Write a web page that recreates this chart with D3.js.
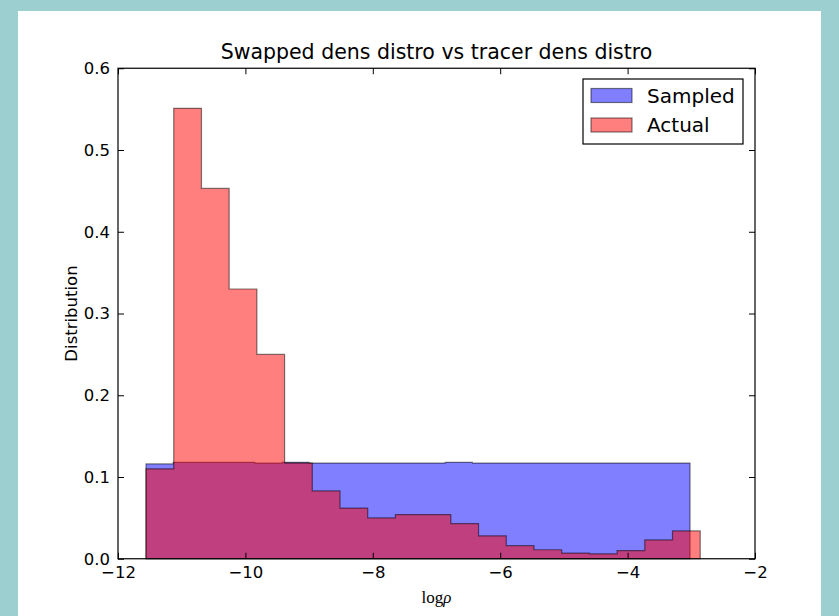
<!DOCTYPE html>
<html>
<head>
<meta charset="utf-8">
<script src="https://cdn.jsdelivr.net/npm/d3@7"></script>
<style>
  html, body { margin: 0; padding: 0; background: #9bcfd0; }
  svg { display: block; }
</style>
</head>
<body>
<svg id="chart" width="839" height="616"></svg>
<script>
// Histogram bin edges (log density) and normalised heights
const sampledEdges = [-11.56, -11.133, -10.706, -10.279, -9.852, -9.425, -8.998, -8.571, -8.144, -7.717,
  -7.29, -6.863, -6.436, -6.009, -5.582, -5.155, -4.728, -4.301, -3.874, -3.447, -3.02];
const sampledValues = [0.116, 0.118, 0.118, 0.118, 0.117, 0.118, 0.117, 0.117, 0.117, 0.117,
  0.117, 0.118, 0.117, 0.117, 0.117, 0.117, 0.117, 0.117, 0.117, 0.117];

const actualEdges = [-11.56, -11.125, -10.69, -10.255, -9.82, -9.385, -8.95, -8.515, -8.08, -7.645,
  -7.21, -6.775, -6.34, -5.905, -5.47, -5.035, -4.6, -4.165, -3.73, -3.295, -2.86];
const actualValues = [0.110, 0.551, 0.453, 0.330, 0.250, 0.117, 0.083, 0.062, 0.050, 0.054,
  0.054, 0.043, 0.028, 0.016, 0.011, 0.007, 0.006, 0.010, 0.023, 0.034];

const xTicks = [-12, -10, -8, -6, -4, -2];
const yTicks = [0.0, 0.1, 0.2, 0.3, 0.4, 0.5, 0.6];

const series = [
  { name: "Sampled", edges: sampledEdges, values: sampledValues, color: "#0000ff" },
  { name: "Actual", edges: actualEdges, values: actualValues, color: "#ff0000" }
];

const sans = "'DejaVu Sans', sans-serif";
const serif = "'Liberation Serif', 'DejaVu Serif', serif";

const svg = d3.select("#chart");

// white figure canvas inside the page frame
svg.append("rect").attr("x", 18).attr("y", 11).attr("width", 803).attr("height", 605).attr("fill", "#fff");

const plot = { left: 118, right: 755, top: 68.25, bottom: 558.75 };
const x = d3.scaleLinear().domain([-12, -2]).range([plot.left, plot.right]);
const y = d3.scaleLinear().domain([0, 0.6]).range([plot.bottom, plot.top]);

// stepfilled outline of a histogram
function stepPath(edges, values) {
  const pts = [[edges[0], 0]];
  values.forEach((v, i) => { pts.push([edges[i], v]); pts.push([edges[i + 1], v]); });
  pts.push([edges[edges.length - 1], 0]);
  return d3.line().x(d => x(d[0])).y(d => y(d[1]))(pts) + "Z";
}

series.forEach(s => {
  svg.append("path")
    .attr("d", stepPath(s.edges, s.values))
    .attr("fill", s.color).attr("fill-opacity", 0.5)
    .attr("stroke", "#000").attr("stroke-opacity", 0.5).attr("stroke-width", 1.2)
    .attr("stroke-linejoin", "miter");
});

// axes with inward ticks on all sides
const tickLen = 6;
const fmtX = d => d3.format("d")(d).replace("-", "\u2212");
const axBottom = d3.axisBottom(x).tickValues(xTicks).tickSizeInner(-tickLen).tickSizeOuter(0).tickPadding(8).tickFormat(fmtX);
const axTop = d3.axisTop(x).tickValues(xTicks).tickSizeInner(-tickLen).tickSizeOuter(0).tickFormat("");
const axLeft = d3.axisLeft(y).tickValues(yTicks).tickSizeInner(-tickLen).tickSizeOuter(0).tickPadding(8).tickFormat(d3.format(".1f"));
const axRight = d3.axisRight(y).tickValues(yTicks).tickSizeInner(-tickLen).tickSizeOuter(0).tickFormat("");

function styleAxis(g) {
  g.attr("font-family", null).attr("font-size", null);
  g.select(".domain").remove();
  g.selectAll(".tick line").attr("stroke", "#000").attr("stroke-width", 1);
  g.selectAll(".tick text").style("font-family", sans).style("font-size", "16.5px").attr("fill", "#000");
}
svg.append("g").attr("transform", `translate(0,${plot.bottom})`).call(axBottom).call(styleAxis);
svg.append("g").attr("transform", `translate(0,${plot.top})`).call(axTop).call(styleAxis);
svg.append("g").attr("transform", `translate(${plot.left},0)`).call(axLeft).call(styleAxis);
svg.append("g").attr("transform", `translate(${plot.right},0)`).call(axRight).call(styleAxis);

// frame
svg.append("rect")
  .attr("x", plot.left).attr("y", plot.top)
  .attr("width", plot.right - plot.left).attr("height", plot.bottom - plot.top)
  .attr("fill", "none").attr("stroke", "#000").attr("stroke-width", 1.2);

// title
svg.append("text")
  .attr("x", (plot.left + plot.right) / 2).attr("y", 59)
  .attr("text-anchor", "middle")
  .style("font-family", sans).style("font-size", "20.5px")
  .text("Swapped dens distro vs tracer dens distro");

// y label
svg.append("text")
  .attr("transform", `translate(77,${(plot.top + plot.bottom) / 2}) rotate(-90)`)
  .attr("text-anchor", "middle")
  .style("font-family", sans).style("font-size", "16.5px")
  .text("Distribution");

// x label: log ρ
const xl = svg.append("text")
  .attr("x", (plot.left + plot.right) / 2).attr("y", 603)
  .attr("text-anchor", "middle")
  .style("font-family", serif).style("font-size", "17px");
xl.append("tspan").text("log");
xl.append("tspan").style("font-style", "italic").text("\u03c1");

// legend
const lg = svg.append("g");
lg.append("rect").attr("x", 583).attr("y", 79).attr("width", 160).attr("height", 65)
  .attr("fill", "#fff").attr("stroke", "#000").attr("stroke-width", 1.2);
series.forEach((s, i) => {
  const cy = 95.5 + i * 29.5;
  lg.append("rect").attr("x", 591).attr("y", cy - 7).attr("width", 41).attr("height", 14)
    .attr("fill", s.color).attr("fill-opacity", 0.5)
    .attr("stroke", "#000").attr("stroke-opacity", 0.5).attr("stroke-width", 1.2);
  lg.append("text").attr("x", 647).attr("y", cy + 7)
    .style("font-family", sans).style("font-size", "20px").text(s.name);
});
</script>
</body>
</html>
